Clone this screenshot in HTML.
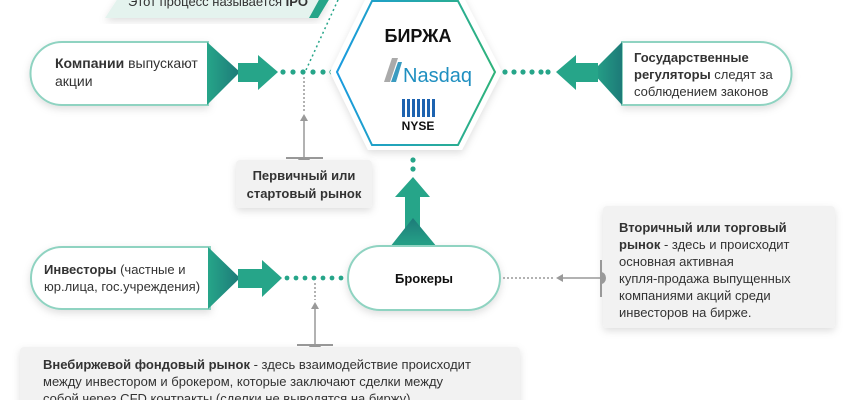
<!DOCTYPE html>
<html><head><meta charset="utf-8"><style>
body{margin:0;width:850px;height:400px;overflow:hidden;background:#fff;font-family:"Liberation Sans",sans-serif}
svg text{font-family:"Liberation Sans",sans-serif}
</style></head><body>
<svg width="850" height="400" viewBox="0 0 850 400" xmlns="http://www.w3.org/2000/svg">
<defs>
<filter id="sh" x="-20%" y="-20%" width="140%" height="150%"><feDropShadow dx="0" dy="3" stdDeviation="4" flood-color="#000" flood-opacity="0.13"/></filter>
<linearGradient id="tg" x1="0" y1="0" x2="1" y2="0"><stop offset="0" stop-color="#26a589"/><stop offset="1" stop-color="#1d7a78"/></linearGradient>
<linearGradient id="tgv" x1="0" y1="1" x2="0" y2="0"><stop offset="0" stop-color="#26a589"/><stop offset="1" stop-color="#1d7a78"/></linearGradient>
<linearGradient id="hx" x1="0" y1="0" x2="1" y2="0"><stop offset="0" stop-color="#1a9be0"/><stop offset="1" stop-color="#2fb37a"/></linearGradient>
</defs>

<!-- top banner -->
<polygon points="118,-2 330,-2 318,18 105,18" fill="#e4f3ee" filter="url(#sh)"/>
<polygon points="320,-2 330,-2 318,18 309,18" fill="#26a589"/>
<text x="218" y="6" font-size="13" fill="#333" text-anchor="middle">Этот процесс называется <tspan font-weight="bold">IPO</tspan></text>
<line x1="338" y1="0" x2="306" y2="70" stroke="#26a589" stroke-width="1.5" stroke-dasharray="2,3"/>
<line x1="327" y1="0" x2="320" y2="0" stroke="#26a589" stroke-width="1.5" stroke-dasharray="2,3"/>

<!-- companies -->
<path d="M62,42 H208 V105 H62 A31.5,31.5 0 0 1 62,42 Z" fill="#fff" stroke="#8fd3c1" stroke-width="2" filter="url(#sh)"/>
<polygon points="207,42 240,72 207,105" fill="url(#tg)"/>
<rect x="238" y="63" width="22" height="19" fill="#26a589"/>
<polygon points="258,55 278,72 258,90" fill="#26a589"/>
<text x="55" y="68" font-size="14" fill="#333"><tspan font-weight="bold">Компании</tspan> выпускают</text>
<text x="55" y="86" font-size="14" fill="#333">акции</text>
<g fill="#26a589"><circle cx="283" cy="72" r="2.6"/><circle cx="293" cy="72" r="2.6"/><circle cx="303" cy="72" r="2.6"/><circle cx="313" cy="72" r="2.6"/><circle cx="323" cy="72" r="2.6"/><circle cx="332" cy="72" r="2.6"/></g>
<line x1="304" y1="77" x2="304" y2="113" stroke="#999" stroke-width="1.5" stroke-dasharray="2,2"/>
<line x1="304" y1="120" x2="304" y2="158" stroke="#999" stroke-width="1.5"/>
<polygon points="304,114 300,121 308,121" fill="#999"/>
<line x1="286" y1="158" x2="323" y2="158" stroke="#999" stroke-width="2"/>
<path d="M298,158 A6,5 0 0 0 310,158 Z" fill="#999"/>
<rect x="236" y="160" width="136" height="48" rx="4" fill="#f2f2f2" filter="url(#sh)"/>
<text x="304" y="180" font-size="13" font-weight="bold" fill="#333" text-anchor="middle">Первичный или</text>
<text x="304" y="198" font-size="13" font-weight="bold" fill="#333" text-anchor="middle">стартовый рынок</text>

<!-- hexagon -->
<polygon points="330,72 368,-6 462,-6 502,72 462,150 368,150" fill="#fff" filter="url(#sh)"/>
<polygon points="337,72 372,1 458,1 495,72 458,145 372,145" fill="#fff" stroke="url(#hx)" stroke-width="2"/>
<text x="418" y="42" font-size="18" font-weight="bold" fill="#111" text-anchor="middle">БИРЖА</text>
<polygon points="384,82 392,58 398,58 390,82" fill="#aaa"/>
<polygon points="391,82 398,62 402,62 396,82" fill="#3a9bc0"/>
<text x="403" y="82" font-size="20" fill="#1f8fc0">Nasdaq</text>
<g fill="#1d63b0"><rect x="402" y="99" width="3" height="18"/><rect x="407" y="99" width="3" height="18"/><rect x="412" y="99" width="3" height="18"/><rect x="417" y="99" width="3" height="18"/><rect x="422" y="99" width="3" height="18"/><rect x="427" y="99" width="3" height="18"/><rect x="432" y="99" width="3" height="18"/></g>
<text x="418" y="130" font-size="12" font-weight="bold" fill="#111" text-anchor="middle">NYSE</text>

<!-- regulators -->
<g fill="#26a589"><circle cx="505" cy="72" r="2.6"/><circle cx="514" cy="72" r="2.6"/><circle cx="523" cy="72" r="2.6"/><circle cx="532" cy="72" r="2.6"/><circle cx="541" cy="72" r="2.6"/><circle cx="548" cy="72" r="2.6"/></g>
<path d="M622,42 H760 A31.5,31.5 0 0 1 760,105 H622 Z" fill="#fff" stroke="#8fd3c1" stroke-width="2" filter="url(#sh)"/>
<polygon points="622,42 592,72 622,105" fill="url(#tg)"/>
<rect x="574" y="63" width="24" height="19" fill="#26a589"/>
<polygon points="576,55 556,72 576,90" fill="#26a589"/>
<text x="634" y="62" font-size="13" font-weight="bold" fill="#333">Государственные</text>
<text x="634" y="79" font-size="13" fill="#333"><tspan font-weight="bold">регуляторы</tspan> следят за</text>
<text x="634" y="96" font-size="13" fill="#333">соблюдением законов</text>

<!-- brokers up arrow -->
<circle cx="413" cy="160" r="2.6" fill="#26a589"/><circle cx="413" cy="169" r="2.6" fill="#26a589"/>
<polygon points="413,177 395,197 430,197" fill="#26a589"/>
<rect x="405" y="196" width="15" height="50" fill="#26a589"/>
<polygon points="413,218 390,247 437,247" fill="url(#tgv)"/>
<rect x="348" y="246" width="152" height="64" rx="32" fill="#fff" stroke="#8fd3c1" stroke-width="2" filter="url(#sh)"/>
<text x="424" y="283" font-size="13" font-weight="bold" fill="#111" text-anchor="middle">Брокеры</text>

<!-- investors -->
<path d="M62,247 H210 V309 H62 A31,31 0 0 1 62,247 Z" fill="#fff" stroke="#8fd3c1" stroke-width="2" filter="url(#sh)"/>
<polygon points="208,247 240,278 208,309" fill="url(#tg)"/>
<rect x="238" y="269" width="26" height="19" fill="#26a589"/>
<polygon points="262,260 282,278 262,297" fill="#26a589"/>
<text x="44" y="274" font-size="13" fill="#333"><tspan font-weight="bold">Инвесторы</tspan> (частные и</text>
<text x="44" y="291" font-size="13" fill="#333">юр.лица, гос.учреждения)</text>
<g fill="#26a589"><circle cx="287" cy="278" r="2.4"/><circle cx="296" cy="278" r="2.4"/><circle cx="305" cy="278" r="2.4"/><circle cx="314" cy="278" r="2.4"/><circle cx="323" cy="278" r="2.4"/><circle cx="332" cy="278" r="2.4"/><circle cx="341" cy="278" r="2.4"/></g>
<line x1="315" y1="283" x2="315" y2="300" stroke="#999" stroke-width="1.5" stroke-dasharray="2,2"/>
<polygon points="315,302 311,309 319,309" fill="#999"/>
<line x1="315" y1="308" x2="315" y2="345" stroke="#999" stroke-width="1.5"/>
<line x1="297" y1="345" x2="333" y2="345" stroke="#999" stroke-width="2"/>
<path d="M309,345 A6,5 0 0 0 321,345 Z" fill="#999"/>
<rect x="20" y="347" width="500" height="60" rx="4" fill="#f2f2f2" filter="url(#sh)"/>
<text x="43" y="369" font-size="13" fill="#333"><tspan font-weight="bold">Внебиржевой фондовый  рынок</tspan> - здесь взаимодействие происходит</text>
<text x="43" y="386" font-size="13" fill="#333">между инвестором и брокером, которые заключают сделки между</text>
<text x="43" y="403" font-size="13" fill="#333">собой через CFD контракты (сделки не выводятся на биржу)</text>

<!-- secondary -->
<line x1="503" y1="278" x2="555" y2="278" stroke="#999" stroke-width="1.5" stroke-dasharray="2,2"/>
<polygon points="556,278 563,274 563,282" fill="#999"/>
<line x1="562" y1="278" x2="600" y2="278" stroke="#999" stroke-width="1.5"/>
<rect x="603" y="206" width="232" height="122" rx="4" fill="#f2f2f2" filter="url(#sh)"/>
<line x1="601" y1="260" x2="601" y2="297" stroke="#999" stroke-width="2"/>
<path d="M601,272 A5,6 0 0 1 601,284 Z" fill="#999"/>
<text x="619" y="232" font-size="13" font-weight="bold" fill="#333">Вторичный или торговый</text>
<text x="619" y="249" font-size="13" fill="#333"><tspan font-weight="bold">рынок</tspan> - здесь и происходит</text>
<text x="619" y="266" font-size="13" fill="#333">основная активная</text>
<text x="619" y="283" font-size="13" fill="#333">купля-продажа выпущенных</text>
<text x="619" y="300" font-size="13" fill="#333">компаниями акций среди</text>
<text x="619" y="317" font-size="13" fill="#333">инвесторов на бирже.</text>
</svg>
</body></html>
